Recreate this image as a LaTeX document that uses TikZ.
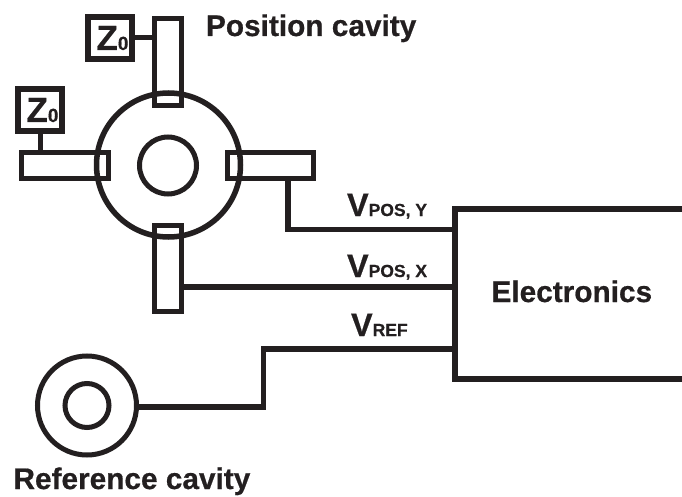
\documentclass[tikz,border=0pt]{standalone}
\usepackage{fontspec}
\setmainfont{Liberation Sans}[BoldFeatures={FakeBold=0.6}]
\definecolor{ink}{HTML}{231F20}
\newcommand{\biglabel}[1]{\fontsize{29.8}{32}\selectfont\bfseries #1}
\newcommand{\siglabel}[2]{\bfseries{\fontsize{32.5}{34}\selectfont #1}{\fontsize{17.5}{20}\selectfont #2}}
\newcommand{\zlabel}{\bfseries{\fontsize{35}{36}\selectfont Z}{\fontsize{19}{20}\selectfont 0}}
\tikzset{
  every node/.style={text=ink},
  ring/.style={draw=ink,circle,line width=#1,inner sep=0pt,outer sep=0pt},
  ring/.default=5pt,
  arm/.style={draw=ink,rectangle,line width=5pt,inner sep=0pt,outer sep=0pt},
  zbox/.style={draw=ink,rectangle,line width=6pt,inner sep=0pt,outer sep=0pt,minimum width=44pt,minimum height=42pt},
  wire/.style={draw=ink,line width=5.5pt,line join=miter},
  thin wire/.style={draw=ink,line width=5pt},
  txt/.style={anchor=base west,inner sep=0pt,outer sep=0pt},
}
\begin{document}
\begin{tikzpicture}[x=1pt,y=-1pt]
\useasboundingbox[fill=white] (0,0) rectangle (682,497);
% cavities
\node[ring=5.5pt,minimum size=144pt] (main) at (168.5,165) {};
\node[ring=5pt,minimum size=57pt] (core) at (168,165.5) {};
\node[ring=5pt,minimum size=99pt] (refout) at (87,405.5) {};
\node[ring=5pt,minimum size=44pt] (refin) at (87,405.5) {};
% arms
\node[arm,minimum width=27pt,minimum height=87pt] (top) at (168,62) {};
\node[arm,minimum width=27pt,minimum height=86pt] (bottom) at (168,268.5) {};
\node[arm,minimum width=87pt,minimum height=26pt] (left) at (65,165.5) {};
\node[arm,minimum width=86pt,minimum height=26pt] (right) at (270.5,165.5) {};
% terminations
\node[zbox] (ztop) at (110,38) {};
\node[zbox] (zleft) at (40,110) {};
\node[txt] (ztoptext) at (96.5,50) {\zlabel};
\node[txt] (zlefttext) at (26.5,122) {\zlabel};
% electronics box, open at the right edge
\coordinate (etop) at (682,209);
\coordinate (ebot) at (682,379);
\draw[draw=ink,line width=6pt,line join=miter] (etop) -- (455,209) -- (455,379) -- (ebot);
\coordinate (ey) at (455,229.5);
\coordinate (ex) at (455,287);
\coordinate (er) at (455,349);
\coordinate (tapy) at (288,181);
\coordinate (tapr) at (263.5,349);
\coordinate (bendr) at (263.5,407);
% connectors
\draw[thin wire] (ztop.east) -- (top.west |- ztop.east);
\draw[thin wire] (zleft.south) -- (zleft.south |- left.north);
\draw[wire] (tapy) |- (ey);
\draw[wire] (bottom.east |- ex) -- (ex);
\draw[wire] (refout.east |- bendr) -- (bendr) -- (tapr) -- (er);
% labels
\node[txt] (pos) at (206,36) {\biglabel{Position cavity}};
\node[txt] (refl) at (13.5,489) {\biglabel{Reference cavity}};
\node[txt] (elec) at (491.5,302) {\biglabel{Electronics}};
\node[txt] (vy) at (347,216) {\siglabel{V}{POS, Y}};
\node[txt] (vx) at (347,277) {\siglabel{V}{POS, X}};
\node[txt] (vr) at (351,336) {\siglabel{V}{REF}};
\end{tikzpicture}
\end{document}
